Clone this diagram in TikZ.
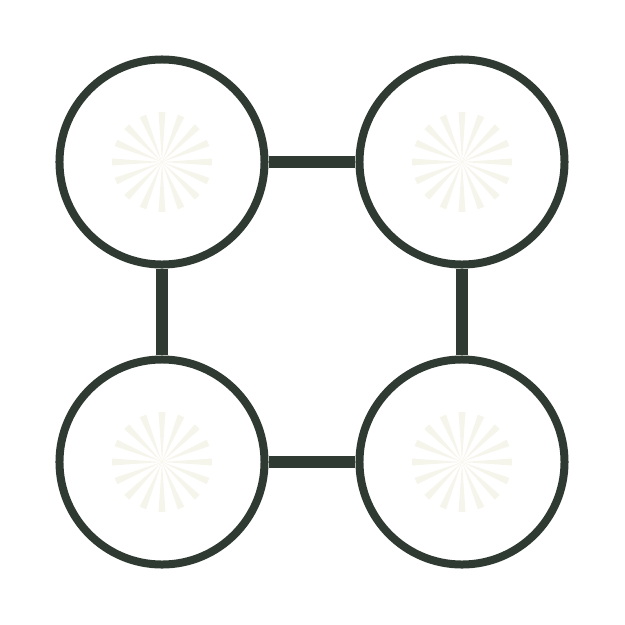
\documentclass[tikz,border=0pt]{standalone}
\definecolor{sombre}{HTML}{2F3B32}
\definecolor{creme}{HTML}{F6F5EC}
\tikzset{
  rond/.style={circle,draw=sombre,line width=0.32cm,minimum size=8.2cm,inner sep=0pt},
  barre/.style={sombre,line width=0.48cm},
}
\begin{document}
\begin{tikzpicture}[x=0.04cm,y=-0.04cm] % ------ Les quatre cercles ----------------
    \useasboundingbox (0,0) rectangle (625,625);
    \foreach \cx/\cy in {162/162,462/162,162/462,462/462}
      \foreach \a in {0,22.5,...,337.5}
        \fill [creme] (\cx,\cy) -- +(\a-4:50) -- +(\a+4:50) -- cycle ;
    \node [rond] (hg) at (162,162) {};
    \node [rond] (hd) at (462,162) {};
    \node [rond] (bg) at (162,462) {};
    \node [rond] (bd) at (462,462) {};
    \draw [barre] (hg) -- (hd);
    \draw [barre] (hd) -- (bd);
    \draw [barre] (bd) -- (bg);
    \draw [barre] (bg) -- (hg);
\end{tikzpicture}
\end{document}
